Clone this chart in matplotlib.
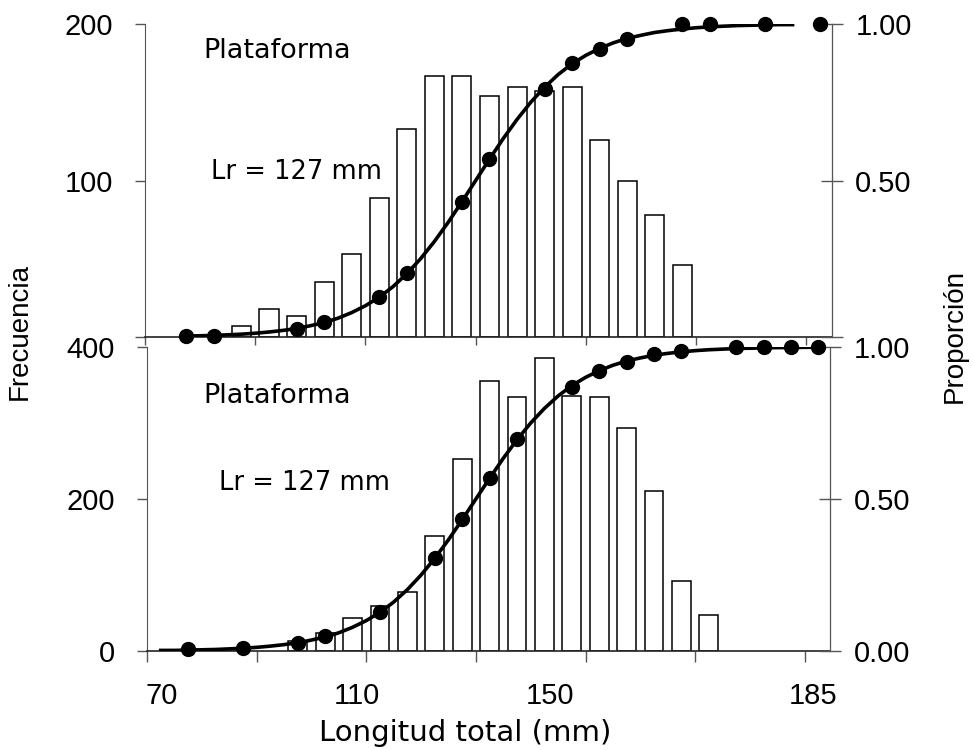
import numpy as np
import matplotlib.pyplot as plt

# clases de talla (mm) y frecuencias
top_x = [87.5, 92.5, 97.5, 102.5, 107.5, 112.5, 117.5, 122.5, 127.5, 132.5,
         137.5, 142.5, 147.5, 152.5, 157.5, 162.5, 167.5]
top_freq = [7, 18, 13.5, 35, 53, 89, 133, 167, 166.5, 154, 159.5, 157, 159.5,
            126, 99.5, 78, 46]

bot_x = [97.5, 102.5, 107.5, 112.5, 117.5, 122.5, 127.5, 132.5, 137.5, 142.5,
         147.5, 152.5, 157.5, 162.5, 167.5, 172.5]
bot_freq = [13, 24, 43.5, 59.5, 78, 151.5, 252.5, 355, 334, 385, 336, 334,
            293, 210.5, 92, 48]

# proporcion observada
top_px = [77.5, 82.5, 97.5, 102.5, 112.5, 117.5, 127.5, 132.5, 142.5, 147.5,
          152.5, 157.5, 167.5, 172.5, 182.5, 192.5]
top_py = [0.004, 0.004, 0.026, 0.049, 0.127, 0.204, 0.43, 0.57, 0.792, 0.874,
          0.921, 0.951, 1.0, 1.0, 1.0, 1.0]

bot_px = [77.5, 87.5, 97.5, 102.5, 112.5, 122.5, 127.5, 132.5, 137.5, 147.5,
          152.5, 157.5, 162.5, 167.5, 177.5, 182.5, 187.5, 192.5]
bot_py = [0.006, 0.009, 0.027, 0.049, 0.129, 0.307, 0.433, 0.57, 0.697, 0.869,
          0.922, 0.952, 0.976, 0.988, 1.0, 1.0, 1.0, 1.0]

# curva ajustada
top_cx = [77.5, 80, 82.5, 85, 87.5, 90, 92.5, 95, 97.5, 100, 102.5, 105, 107.5,
          110, 112.5, 115, 117.5, 120, 122.5, 125, 127.5, 130, 132.5, 135,
          137.5, 140, 142.5, 145, 147.5, 150, 152.5, 155, 157.5, 160, 162.5,
          165, 167.5, 170, 172.5, 175, 177.5, 180, 182.5, 185, 187.5]
top_cy = [0.003, 0.004, 0.005, 0.007, 0.009, 0.012, 0.016, 0.021, 0.027, 0.036,
          0.046, 0.060, 0.078, 0.100, 0.127, 0.161, 0.202, 0.250, 0.305, 0.366,
          0.432, 0.500, 0.568, 0.634, 0.695, 0.750, 0.798, 0.839, 0.873, 0.900,
          0.922, 0.940, 0.954, 0.964, 0.973, 0.979, 0.984, 0.988, 0.991, 0.993,
          0.995, 0.996, 0.997, 0.998, 0.998]

bot_cx = [72.5, 75] + top_cx + [190, 192.5]
bot_cy = [0.002, 0.002] + top_cy + [0.999, 0.999]

xtick_pos = [72.7, 108.2, 143.6, 191.5]
xtick_lab = ['70', '110', '150', '185']

W, H = 974, 750
fig = plt.figure(figsize=(W / 100, H / 100), dpi=100)

gray = '#555555'
tickfont = ['Liberation Sans', 'DejaVu Sans']
tfs = 21


def panel(rect, bx, bf, px, py, cx, cy, ymax, lticks, llabels, rlabels, xlen):
    ax = fig.add_axes(rect)
    ax.bar(bx, bf, width=3.45, color='white', edgecolor='black', linewidth=1.1, zorder=2)
    ax.set_xlim(70, 194.6)
    ax.set_ylim(0, ymax)
    ax.set_yticks(lticks)
    ax.set_yticklabels(llabels, fontsize=tfs, family=tickfont)
    ax.set_xticks([70, 90, 110, 130, 150, 170, 190])
    ax.set_xticklabels([])
    ax.tick_params(axis='y', direction='out', length=7, width=1, color=gray, pad=16)
    ax.tick_params(axis='x', direction='out', length=xlen, width=1, color=gray)
    ax.spines['top'].set_visible(False)
    ax.spines['left'].set_color(gray)
    ax.spines['bottom'].set_color('#222222')
    ax.spines['bottom'].set_linewidth(1.2)

    axr = ax.twinx()
    axr.plot(cx, cy, color='black', linewidth=2.6, zorder=3)
    axr.plot(px, py, 'o', color='black', markersize=10, clip_on=False, zorder=4)
    axr.set_ylim(0, 1.0)
    axr.set_yticks([0, 0.5, 1.0])
    axr.set_yticklabels(rlabels, fontsize=tfs, family=tickfont)
    axr.tick_params(axis='y', direction='inout', length=16, width=1, color=gray, pad=9)
    axr.spines['top'].set_visible(False)
    axr.spines['right'].set_color(gray)
    axr.spines['left'].set_visible(False)
    axr.spines['bottom'].set_visible(False)
    return ax


ax1 = panel([145 / W, 1 - 337 / H, 686.7 / W, 313 / H], top_x, top_freq,
            top_px, top_py, top_cx, top_cy, 200, [0, 100, 200], ['', '100', '200'],
            ['', '0.50', '1.00'], 6)
ax2 = panel([147 / W, 1 - 651 / H, 683 / W, 304 / H], bot_x, bot_freq,
            bot_px, bot_py, bot_cx, bot_cy, 400, [0, 200, 400], ['0', '200', '400'],
            ['0.00', '0.50', '1.00'], 8)

ax2.set_xticks(xtick_pos, minor=True)
ax2.set_xticklabels(xtick_lab, minor=True, fontsize=tfs, family=tickfont)
ax2.tick_params(axis='x', which='minor', length=0, pad=22)

fig.text(203 / W, 1 - 50.5 / H, 'Plataforma', fontsize=19.5, ha='left', va='center')
fig.text(211 / W, 1 - 172 / H, 'Lr = 127 mm', fontsize=18.5, ha='left', va='center')
fig.text(203 / W, 1 - 396 / H, 'Plataforma', fontsize=19.5, ha='left', va='center')
fig.text(219 / W, 1 - 483 / H, 'Lr = 127 mm', fontsize=18.5, ha='left', va='center')

fig.text(465 / W, 1 - 733 / H, 'Longitud total (mm)', fontsize=21, ha='center', va='center')
fig.text(20 / W, 1 - 331 / H, 'Frecuencia', fontsize=20, family=tickfont,
         rotation=90, ha='center', va='center')
fig.text(955 / W, 1 - 336 / H, 'Proporción', fontsize=20, family=tickfont,
         rotation=90, ha='center', va='center')

fig.savefig('out.png', dpi=100)
